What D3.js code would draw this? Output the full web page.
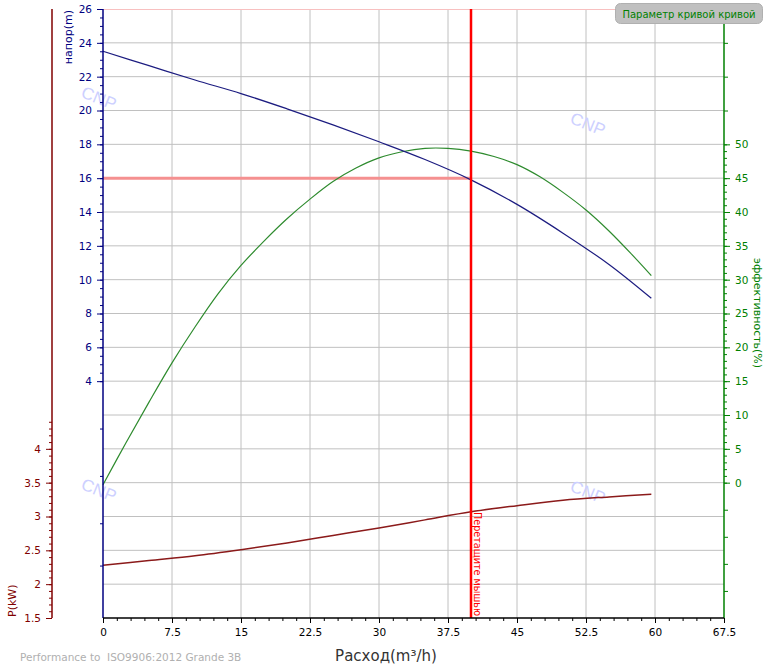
<!DOCTYPE html>
<html>
<head>
<meta charset="utf-8">
<script src="https://cdn.jsdelivr.net/npm/d3@7"></script>
<style>
  body { margin: 0; background: #fff; }
  text { font-family: "DejaVu Sans", Verdana, sans-serif; }
</style>
</head>
<body>
<script>
// pump curve chart - flow vs head / efficiency / power

var width = 772;
var height = 668;

// flow (m3/h) sample points and the three curves
var flowHead = [0, 5, 10, 15, 20, 25, 30, 35, 40, 45, 50, 55, 59.6];
var headVals = [23.5, 22.65, 21.8, 21.0, 20.1, 19.15, 18.15, 17.1, 15.9, 14.45, 12.75, 10.9, 8.9];

var flowEff = [0, 2.5, 5, 7.5, 10, 12.5, 15, 17.5, 20, 22.5, 25, 27.5, 30, 32.5, 35, 37.5, 40, 42.5, 45, 47.5, 50, 52.5, 55, 57.5, 59.6];
var effVals = [-0.3, 5.9, 11.9, 17.7, 23.0, 27.9, 32.1, 35.7, 39.0, 41.9, 44.5, 46.5, 48.0, 48.9, 49.4, 49.4, 49.0, 48.2, 47.0, 45.2, 42.9, 40.3, 37.2, 33.7, 30.6];

var flowPow = [0, 5, 10, 15, 20, 25, 30, 35, 40, 45, 50, 55, 59.6];
var powVals = [2.28, 2.35, 2.42, 2.51, 2.61, 2.72, 2.83, 2.95, 3.07, 3.16, 3.24, 3.29, 3.33];

// operating point (red drag line)
var dutyFlow = 40;
var dutyHead = 16;

// tick values
var xTicks = d3.range(0, 67.5 + 0.01, 7.5);
var xMinor = d3.range(0, 67.5 + 0.01, 1.5);
var headTicks = d3.range(4, 26.01, 2);
var headMinor = d3.range(4, 26.01, 0.5);
var headExtra = [1.2, -1.6, -4.4, -6.9];
var powTicks = [1.5, 2, 2.5, 3, 3.5, 4];
var powMinor = d3.range(1.5, 4.41, 0.1);
var effTicks = d3.range(0, 50.01, 5);
var effMinor = d3.range(0, 50.01, 1);
var effExtra = [55, 60, 65, -4, -8, -12, -16];
var gridHead = d3.range(-8, 24.01, 2);

var svg = d3.select('body').append('svg')
  .attr('width', width)
  .attr('height', height);

var pLeft = 103, pRight = 724, pTop = 9, pBottom = 618;

var x = d3.scaleLinear().domain([0, 67.5]).range([pLeft, pRight]);
var yH = d3.scaleLinear().domain([-10, 26]).range([pBottom, pTop]);
var yP = d3.scaleLinear().domain([1.5, 10.5]).range([pBottom, pTop]);
var yE = d3.scaleLinear().domain([-20, 70]).range([pBottom, pTop]);

// grid
var grid = svg.append('g');
grid.selectAll('line.v').data(xTicks.slice(1, -1)).enter().append('line')
  .attr('x1', function(d) { return x(d); }).attr('x2', function(d) { return x(d); })
  .attr('y1', pTop).attr('y2', pBottom)
  .attr('stroke', '#c0c0c0');
grid.selectAll('line.h').data(gridHead).enter().append('line')
  .attr('x1', pLeft).attr('x2', pRight)
  .attr('y1', function(d) { return yH(d); }).attr('y2', function(d) { return yH(d); })
  .attr('stroke', '#c0c0c0');
grid.append('line')
  .attr('x1', pLeft).attr('x2', 615).attr('y1', pTop + 0.5).attr('y2', pTop + 0.5)
  .attr('stroke', '#f8c0c0');

// watermarks
var marks = [[99, 98], [588, 124], [99, 490], [588, 492]];
svg.selectAll('text.wm').data(marks).enter().append('text')
  .attr('transform', function(d) { return 'translate(' + d[0] + ',' + d[1] + ') rotate(22)'; })
  .attr('text-anchor', 'middle')
  .attr('dy', '0.35em')
  .style('font-family', '"Liberation Sans", Arial, sans-serif')
  .style('font-size', '17px')
  .attr('fill', '#cdd0ff')
  .text('CNP');

// operating head line
svg.append('line')
  .attr('x1', pLeft).attr('x2', x(dutyFlow))
  .attr('y1', yH(dutyHead)).attr('y2', yH(dutyHead))
  .attr('stroke', '#f59090')
  .attr('stroke-width', 3);

// curves
var lineOf = function(xs, ys, yScale) {
  return d3.line()
    .x(function(d, i) { return x(xs[i]); })
    .y(function(d) { return yScale(d); })
    .curve(d3.curveCatmullRom)(ys);
};

svg.append('path').attr('d', lineOf(flowEff, effVals, yE))
  .attr('fill', 'none').attr('stroke', '#2e8b2e').attr('stroke-width', 1.2);
svg.append('path').attr('d', lineOf(flowHead, headVals, yH))
  .attr('fill', 'none').attr('stroke', '#1c1c80').attr('stroke-width', 1.2);
svg.append('path').attr('d', lineOf(flowPow, powVals, yP))
  .attr('fill', 'none').attr('stroke', '#8b1a1a').attr('stroke-width', 1.5);

// red drag line
svg.append('line')
  .attr('x1', x(dutyFlow)).attr('x2', x(dutyFlow))
  .attr('y1', pTop).attr('y2', pBottom)
  .attr('stroke', '#ff0000').attr('stroke-width', 2.5);
svg.append('text')
  .attr('transform', 'translate(' + (x(dutyFlow) + 3) + ',512) rotate(90)')
  .style('font-size', '10px')
  .attr('textLength', 104)
  .attr('lengthAdjust', 'spacingAndGlyphs')
  .attr('fill', '#ff0000')
  .text('Перетащите мышью');

// axes helper
var drawAxis = function(axis, tx, ty, color) {
  var g = svg.append('g')
    .attr('transform', 'translate(' + tx + ',' + ty + ')')
    .call(axis);
  g.select('.domain').remove();
  g.selectAll('line').attr('stroke', color);
  g.selectAll('text').attr('fill', color)
    .style('font-family', '"DejaVu Sans", Verdana, sans-serif')
    .style('font-size', '10.5px');
  return g;
};

// head axis (blue)
drawAxis(d3.axisLeft(yH).tickValues(headMinor).tickSize(3).tickFormat(''), pLeft, 0, '#000080');
drawAxis(d3.axisLeft(yH).tickValues(headExtra).tickSize(3).tickFormat(''), pLeft, 0, '#000080');
drawAxis(d3.axisLeft(yH).tickValues(headTicks).tickSize(6).tickPadding(5).tickFormat(function(d) { return d; }), pLeft, 0, '#000080');
svg.append('line').attr('x1', pLeft).attr('x2', pLeft).attr('y1', pTop).attr('y2', pBottom)
  .attr('stroke', '#000080').attr('stroke-width', 1.5);

// power axis (dark red)
var pX = 52;
drawAxis(d3.axisLeft(yP).tickValues(powMinor).tickSize(3).tickFormat(''), pX, 0, '#800000');
drawAxis(d3.axisLeft(yP).tickValues(powTicks).tickSize(6).tickPadding(5).tickFormat(function(d) { return d; }), pX, 0, '#800000');
svg.append('line').attr('x1', pX).attr('x2', pX).attr('y1', pTop).attr('y2', pBottom)
  .attr('stroke', '#800000').attr('stroke-width', 1.5);

// efficiency axis (green)
drawAxis(d3.axisRight(yE).tickValues(effMinor).tickSize(3).tickFormat(''), pRight, 0, '#008000');
drawAxis(d3.axisRight(yE).tickValues(effExtra).tickSize(4).tickFormat(''), pRight, 0, '#008000');
drawAxis(d3.axisRight(yE).tickValues(effTicks).tickSize(6).tickPadding(5).tickFormat(function(d) { return d; }), pRight, 0, '#008000');
svg.append('line').attr('x1', pRight).attr('x2', pRight).attr('y1', pTop).attr('y2', pBottom)
  .attr('stroke', '#008000').attr('stroke-width', 1.5);

// flow axis (bottom)
drawAxis(d3.axisBottom(x).tickValues(xMinor).tickSize(3).tickFormat(''), 0, pBottom, '#000');
drawAxis(d3.axisBottom(x).tickValues(xTicks).tickSize(5).tickPadding(6).tickFormat(function(d) { return d; }), 0, pBottom, '#000');
svg.append('line').attr('x1', pLeft).attr('x2', pRight).attr('y1', pBottom).attr('y2', pBottom)
  .attr('stroke', '#000').attr('stroke-width', 1.5);

// axis titles
svg.append('text')
  .attr('transform', 'translate(72,10) rotate(-90)')
  .attr('text-anchor', 'end')
  .style('font-size', '11px')
  .attr('fill', '#000080')
  .text('напор(m)');
svg.append('text')
  .attr('transform', 'translate(16,617) rotate(-90)')
  .attr('text-anchor', 'start')
  .style('font-size', '11px')
  .attr('fill', '#800000')
  .text('P(kW)');
svg.append('text')
  .attr('transform', 'translate(754,313) rotate(90)')
  .attr('text-anchor', 'middle')
  .style('font-size', '11px')
  .attr('fill', '#008000')
  .text('эффективность(%)');
svg.append('text')
  .attr('x', 386).attr('y', 661)
  .attr('text-anchor', 'middle')
  .style('font-size', '15px')
  .attr('fill', '#333')
  .text('Расход(m³/h)');
svg.append('text')
  .attr('x', 20).attr('y', 661)
  .style('font-size', '10.5px')
  .style('white-space', 'pre')
  .attr('fill', '#b0b0b0')
  .text('Performance to  ISO9906:2012 Grande 3B');

// button top right
svg.append('rect')
  .attr('x', 615.5).attr('y', 3.5).attr('width', 147).attr('height', 20)
  .attr('rx', 5).attr('ry', 5)
  .attr('fill', '#c0c0c0').attr('stroke', '#b0b0b0');
svg.append('text')
  .attr('x', 689).attr('y', 17.5)
  .attr('text-anchor', 'middle')
  .style('font-size', '10px')
  .attr('fill', '#008000')
  .text('Параметр кривой кривой');
</script>
</body>
</html>
